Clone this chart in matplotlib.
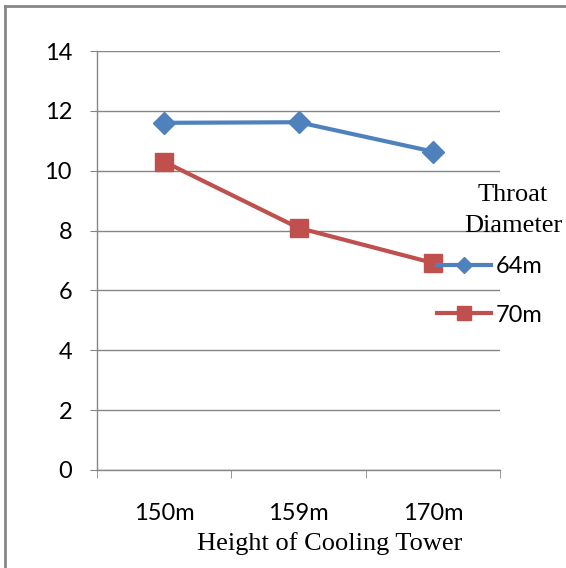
import matplotlib
matplotlib.use("Agg")
import matplotlib.pyplot as plt
from matplotlib.lines import Line2D

heights = ["150m", "159m", "170m"]
throat_64 = [11.6, 11.62, 10.64]
throat_70 = [10.3, 8.09, 6.92]
series_names = ["64m", "70m"]
y_ticks = [0, 2, 4, 6, 8, 10, 12, 14]

BLUE = "#4F81BD"
RED = "#C0504D"
GRID = "#868686"
SANS = "Lato"
SERIF = "Liberation Serif"

fig = plt.figure(figsize=(5.66, 5.68), dpi=100)
ax = fig.add_axes([97 / 566, 1 - 470 / 568, 403 / 566, 419 / 568])

x = list(range(len(heights)))
ax.plot(x, throat_64, color=BLUE, lw=3, marker="D", ms=11,
        label=series_names[0], zorder=3)
ax.plot(x, throat_70, color=RED, lw=3, marker="s", ms=13,
        label=series_names[1], zorder=3)

ax.set_ylim(0, 14)
ax.set_yticks(y_ticks)
ax.set_xlim(-0.5, len(heights) - 0.5)
ax.set_xticks(x)
ax.set_xticklabels(heights)
ax.set_xticks([i - 0.5 for i in range(len(heights) + 1)], minor=True)

ax.grid(axis="y", color=GRID, lw=1)
ax.set_axisbelow(True)
for s in ["top", "right"]:
    ax.spines[s].set_visible(False)
for s in ["left", "bottom"]:
    ax.spines[s].set_color(GRID)
    ax.spines[s].set_linewidth(1)

ax.tick_params(axis="y", direction="out", length=5, color=GRID,
               labelsize=17, pad=13)
ax.tick_params(axis="x", which="major", length=0, labelsize=17, pad=24)
ax.tick_params(axis="x", which="minor", direction="out", length=6, color=GRID)
for lab in ax.get_xticklabels() + ax.get_yticklabels():
    lab.set_family(SANS)

ax.set_xlabel("Height of Cooling Tower", family=SERIF, fontsize=19)
ax.xaxis.set_label_coords(0.578, -0.176)
ax.xaxis.label.set_verticalalignment("center")

fig.text(513 / 566, 1 - 195 / 568, "Throat", family=SERIF, fontsize=19,
         ha="center", va="center")
fig.text(513 / 566, 1 - 226 / 568, "Diameter", family=SERIF, fontsize=19,
         ha="center", va="center")

leg = ax.legend(loc="upper left", bbox_to_anchor=(437 / 566, 1 - 256 / 568),
                bbox_transform=fig.transFigure, frameon=False,
                prop={"family": SANS, "size": 17}, handlelength=2.3,
                handletextpad=0.2, labelspacing=1.17, borderpad=0,
                borderaxespad=0, markerscale=0.75)

# outer chart frame (top and left edges only visible)
fig.add_artist(Line2D([5 / 566, 1], [1 - 6 / 568, 1 - 6 / 568],
                      transform=fig.transFigure, color="#878787", lw=2))
fig.add_artist(Line2D([5 / 566, 5 / 566], [0, 1 - 6 / 568],
                      transform=fig.transFigure, color="#878787", lw=2))

fig.savefig("out.png", dpi=100)
